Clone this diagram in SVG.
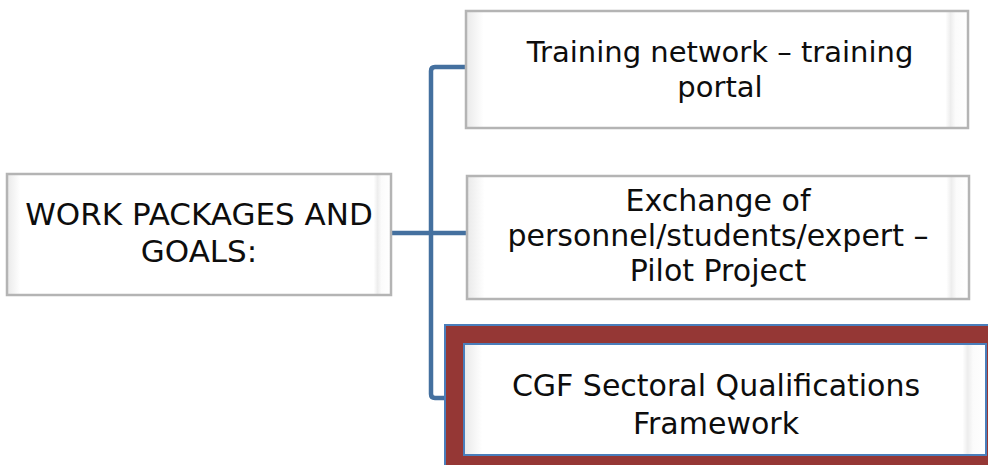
<svg xmlns="http://www.w3.org/2000/svg" width="988" height="465" viewBox="0 0 988 465">
<defs>
<linearGradient id="bevel" x1="0" y1="0" x2="1" y2="0">
<stop offset="0" stop-color="#e9e9e9"/>
<stop offset="0.035" stop-color="#ffffff"/>
<stop offset="0.955" stop-color="#ffffff"/>
<stop offset="0.965" stop-color="#ededed"/>
<stop offset="0.975" stop-color="#fbfbfb"/>
<stop offset="1" stop-color="#ffffff"/>
</linearGradient>
</defs>
<style>
.box{fill:url(#bevel);stroke:#b4b4b4;stroke-width:2.5}
.lbl{font-family:"DejaVu Sans",Verdana,sans-serif;font-size:30px;fill:#0d0d0d;text-anchor:middle}
.conn{fill:none;stroke:#44709f;stroke-width:4.5;stroke-linejoin:round}
</style>
<rect width="988" height="465" fill="#ffffff"/>
<g id="connectors">
<path class="conn" d="M467 67 H435 Q431 67 431 71 V394 Q431 398 435 398 H467"/>
<path class="conn" d="M391 233 H467"/>
</g>
<g id="node-root">
<rect class="box" x="7" y="174" width="384" height="121"/>
<text class="lbl" x="199" y="225" style="font-size:31px">WORK PACKAGES AND</text>
<text class="lbl" x="199" y="262" style="font-size:31px">GOALS:</text>
</g>
<g id="node-training">
<rect class="box" x="466" y="11" width="502" height="117"/>
<text class="lbl" x="720" y="62" style="font-size:29px">Training network – training</text>
<text class="lbl" x="720" y="97" style="font-size:29px">portal</text>
</g>
<g id="node-exchange">
<rect class="box" x="467" y="176" width="502" height="123"/>
<text class="lbl" x="718" y="211">Exchange of</text>
<text class="lbl" x="718" y="246">personnel/students/expert –</text>
<text class="lbl" x="718" y="281">Pilot Project</text>
</g>
<g id="node-cgf">
<rect x="445" y="325" width="560" height="160" fill="#953735" stroke="#4a7ebb" stroke-width="2"/>
<rect x="464" y="344" width="522" height="111" fill="url(#bevel)" stroke="#4a7ebb" stroke-width="2"/>
<text class="lbl" x="716" y="396">CGF Sectoral Qualifications</text>
<text class="lbl" x="716" y="434">Framework</text>
</g>
</svg>
